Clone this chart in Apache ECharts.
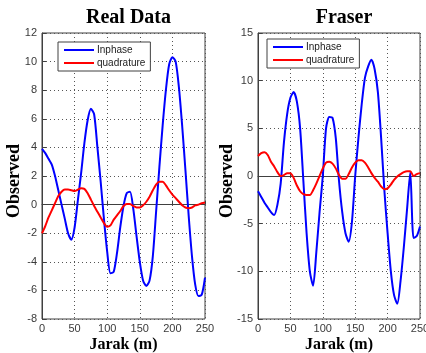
<!DOCTYPE html>
<html>
<head>
<meta charset="utf-8">
<script src="https://cdn.jsdelivr.net/npm/echarts@6/dist/echarts.min.js"></script>
<style>
  html, body { margin: 0; padding: 0; background: #fff; }
  #chart { width: 426px; height: 353px; }
</style>
</head>
<body>
<div id="chart"></div>
<script>
// Distance along profile (m)
const jarak = [0, 5, 10, 15, 20, 25, 30, 35, 40, 45, 50, 55, 60, 65, 70, 75, 80, 85, 90, 95,
  100, 105, 110, 115, 120, 125, 130, 135, 140, 145, 150, 155, 160, 165, 170, 175, 180, 185, 190, 195,
  200, 205, 210, 215, 220, 225, 230, 235, 240, 245, 250];

// Real Data panel
const realInphase = [3.9, 3.6, 3.2, 2.8, 2.0, 1.0, 0.0, -1.0, -2.0, -2.45, -1.6, 0.3, 2.2, 4.3, 5.9, 6.7, 6.3, 4.0, 1.6, -1.0,
  -3.3, -4.8, -4.7, -3.4, -1.6, -0.1, 0.8, 0.9, -0.3, -2.2, -4.0, -5.3, -5.7, -5.3, -3.6, -0.5, 2.6, 5.5, 8.0, 9.8,
  10.3, 10.0, 8.2, 5.5, 2.4, -0.8, -3.6, -5.6, -6.4, -6.3, -5.1];
const realQuadrature = [-2.0, -1.5, -0.9, -0.4, 0.1, 0.6, 0.9, 1.05, 1.05, 1.0, 0.95, 1.05, 1.15, 1.1, 0.8, 0.35, -0.1, -0.5, -0.9, -1.3,
  -1.55, -1.45, -1.05, -0.75, -0.45, -0.1, 0.05, 0.05, -0.1, -0.2, -0.2, -0.05, 0.2, 0.55, 1.0, 1.4, 1.6, 1.6, 1.35, 1.0,
  0.7, 0.45, 0.2, -0.05, -0.2, -0.25, -0.2, -0.05, 0.0, 0.1, 0.15];

// Fraser panel
const fraserInphase = [-1.6, -2.2, -2.8, -3.3, -3.8, -4.1, -3.0, -0.8, 3.5, 6.5, 8.2, 8.8, 7.8, 5.0, -0.5, -6.0, -10.0, -11.5, -8.0, -3.8,
  0.0, 5.0, 6.2, 6.1, 4.0, -0.5, -3.8, -6.0, -6.9, -4.8, 0.0, 4.0, 7.5, 10.3, 11.5, 12.2, 11.2, 8.8, 4.0, -1.5,
  -6.0, -10.0, -12.5, -13.4, -11.0, -7.5, -3.5, 0.4, -6.5, -6.3, -5.3];
const fraserQuadrature = [2.1, 2.4, 2.5, 2.2, 1.5, 1.0, 0.4, 0.0, 0.1, 0.3, 0.3, -0.2, -1.0, -1.6, -1.9, -2.0, -2.0, -1.5, -0.8, 0.0,
  0.8, 1.4, 1.5, 1.3, 0.8, 0.1, -0.3, -0.3, 0.2, 0.9, 1.4, 1.65, 1.65, 1.4, 0.9, 0.3, -0.2, -0.6, -1.1, -1.4,
  -1.3, -0.9, -0.4, -0.05, 0.2, 0.4, 0.5, 0.5, 0.0, 0.2, 0.3];

const titles = ['Real Data', 'Fraser'];
const seriesNames = ['Inphase', 'quadrature'];
const xTicks = { min: 0, max: 250, interval: 50 };
const yTicks = [{ min: -8, max: 12, interval: 2 }, { min: -15, max: 15, interval: 5 }];

const pair = (ys) => jarak.map((x, i) => [x, ys[i]]);

const serif = '"Liberation Serif", "Times New Roman", serif';
const sans = '"Liberation Sans", Arial, sans-serif';
const frame = '#404040';

const grids = [
  { left: 42, top: 33, width: 163, height: 286 },
  { left: 258, top: 33, width: 162, height: 286 },
];

const chart = echarts.init(document.getElementById('chart'));

const axisCommon = {
  axisLine: { show: true, lineStyle: { color: frame, width: 1 } },
  axisTick: { show: true, inside: true, length: 4, lineStyle: { color: frame } },
  splitLine: { show: true, lineStyle: { color: '#555', type: [1, 3], width: 1 } },
  nameMoveOverlap: false,
};
const tickLabel = { color: '#3a3a3a', fontFamily: sans, fontSize: 11 };

const option = {
  animation: false,
  backgroundColor: '#fff',
  title: titles.map((t, i) => ({
    text: t,
    left: grids[i].left + grids[i].width / 2,
    textAlign: 'center',
    top: 3,
    textStyle: { fontFamily: serif, fontWeight: 'bold', fontSize: 20, color: '#000' },
  })),
  legend: grids.map((g, i) => ({
    data: seriesNames,
    orient: 'vertical',
    left: i === 0 ? 58 : 267,
    top: i === 0 ? 42 : 39,
    itemWidth: 30,
    itemHeight: 2,
    itemGap: 3,
    padding: [3, 5, 3, 6],
    icon: 'rect',
    backgroundColor: '#fff',
    borderColor: frame,
    borderWidth: 1,
    borderRadius: 0,
    textStyle: { fontFamily: sans, fontSize: 10, color: '#222', padding: [0, 0, 0, -2] },
    selectedMode: false,
  })),
  grid: grids.map((g) => ({
    ...g,
    show: true,
    borderColor: frame,
    borderWidth: 1,
    backgroundColor: '#fff',
    containLabel: false,
    outerBoundsMode: 'none',
  })),
  xAxis: grids.map((g, i) => ({
    type: 'value',
    gridIndex: i,
    ...xTicks,
    name: 'Jarak (m)',
    nameLocation: 'middle',
    nameGap: 18,
    nameTextStyle: { fontFamily: serif, fontWeight: 'bold', fontSize: 16, color: '#000' },
    ...axisCommon,
    axisLabel: { ...tickLabel, margin: 4 },
  })),
  yAxis: grids.map((g, i) => ({
    type: 'value',
    gridIndex: i,
    ...yTicks[i],
    name: 'Observed',
    nameLocation: 'middle',
    nameGap: i === 0 ? 19 : 22,
    nameTextStyle: { fontFamily: serif, fontWeight: 'bold', fontSize: 18, color: '#000', padding: [0, 10, 0, 0] },
    ...axisCommon,
    axisLabel: { ...tickLabel, margin: 5 },
  })),
  series: [
    [realInphase, realQuadrature],
    [fraserInphase, fraserQuadrature],
  ].flatMap((pairSet, i) => pairSet.map((ys, k) => ({
    name: seriesNames[k],
    type: 'line',
    xAxisIndex: i,
    yAxisIndex: i,
    data: pair(ys),
    smooth: 0.25,
    showSymbol: false,
    lineStyle: { color: k === 0 ? '#0000ff' : '#ff0000', width: 2 },
    itemStyle: { color: k === 0 ? '#0000ff' : '#ff0000' },
  }))),
};

chart.setOption(option);
</script>
</body>
</html>
